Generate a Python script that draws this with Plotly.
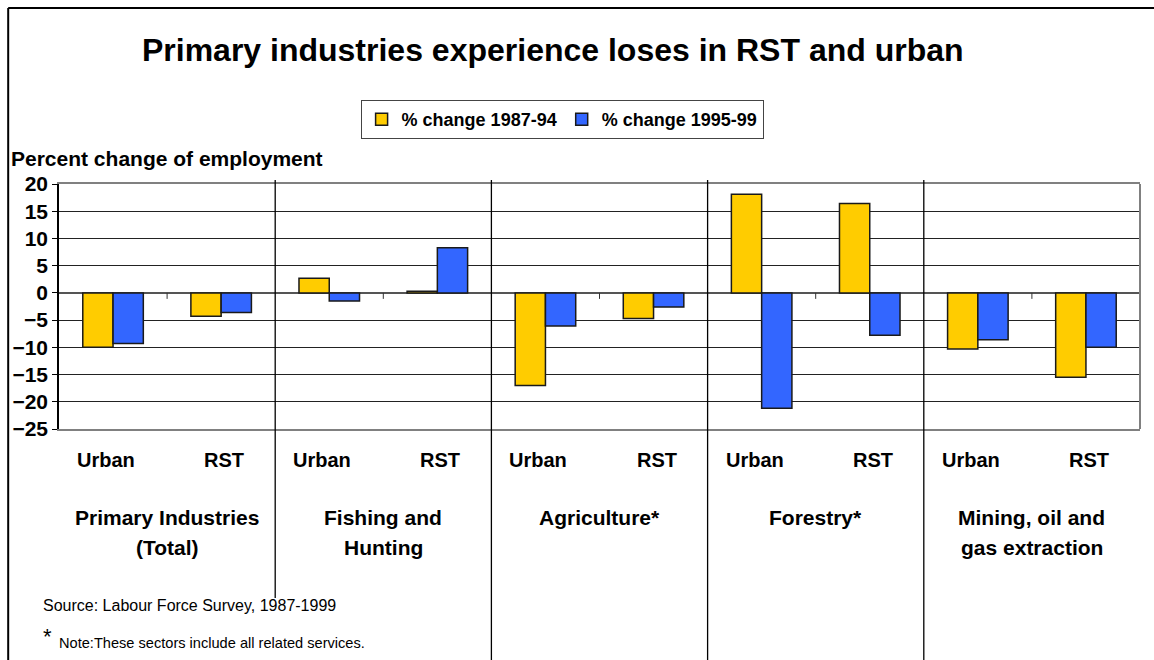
import plotly.graph_objects as go

# ---- data ----
groups = ["Primary Industries<br>(Total)", "Fishing and<br>Hunting", "Agriculture*", "Forestry*",
          "Mining, oil and<br>gas extraction"]
areas = ["Urban", "RST"]
series_names = ["% change 1987-94", "% change 1995-99"]
change_1987_94 = [-10.0, -4.3, 2.7, 0.3, -17.0, -4.7, 18.1, 16.4, -10.3, -15.5]
change_1995_99 = [-9.3, -3.6, -1.5, 8.3, -6.1, -2.6, -21.2, -7.8, -8.6, -10.0]
y_ticks = [20, 15, 10, 5, 0, -5, -10, -15, -20, -25]

colors = ["#FFCC00", "#3366FF"]
FONT = "Liberation Sans, Arial, sans-serif"

n_cat = len(groups) * len(areas)
xpos = list(range(n_cat))
cat_labels = [areas[i % 2] for i in xpos]

fig = go.Figure()
for name, vals, col in zip(series_names, [change_1987_94, change_1995_99], colors):
    fig.add_trace(go.Bar(x=xpos, y=vals, name=name, marker=dict(color=col, line=dict(color="#1a1a1a", width=1.5))))

shapes = []
# group separators
for g in range(1, len(groups)):
    xb = 2 * g - 0.5
    shapes.append(dict(type="line", xref="x", yref="paper", x0=xb, x1=xb, y0=1.016,
                       y1=-0.69 if g == 1 else -0.96, line=dict(color="black", width=1.3)))
# small ticks on zero line between Urban and RST
for g in range(len(groups)):
    xb = 2 * g + 0.5
    shapes.append(dict(type="line", xref="x", yref="y", x0=xb, x1=xb, y0=0, y1=-1.1,
                       line=dict(color="#333", width=1)))
# right border of plot area
shapes.append(dict(type="line", xref="paper", yref="paper", x0=1, x1=1, y0=0, y1=1,
                   line=dict(color="#808080", width=2)))
# outer frame (left and top)
shapes.append(dict(type="line", xref="paper", yref="paper", x0=-0.047, x1=-0.047, y0=1.718, y1=-1.0,
                   line=dict(color="black", width=2)))
shapes.append(dict(type="line", xref="paper", yref="paper", x0=-0.047, x1=1.02, y0=1.718, y1=1.718,
                   line=dict(color="black", width=2)))

BOLD = dict(family=FONT, color="black", weight="bold")
annotations = []
for i, lab in enumerate(cat_labels):
    annotations.append(dict(text=lab, x=i, xref="x", y=-0.1265, yref="paper", showarrow=False,
                            yanchor="middle", xshift=-7 if lab == "Urban" else 3,
                            font=dict(BOLD, size=20)))
for g, lab in enumerate(groups):
    lines = lab.split("<br>")
    ys = [-0.363, -0.4857][:len(lines)]
    for ln, yy in zip(lines, ys):
        annotations.append(dict(text=ln, x=2 * g + 0.5, xref="x", y=yy, yref="paper", showarrow=False,
                                yanchor="middle", font=dict(BOLD, size=21)))
annotations.append(dict(text="Percent change of employment", x=-0.046, xref="paper", y=1.106, yref="paper",
                        xanchor="left", yanchor="middle", showarrow=False, font=dict(BOLD, size=21)))
annotations.append(dict(text="Source: Labour Force Survey, 1987-1999", x=-0.0166, xref="paper", y=-0.7224,
                        yref="paper", xanchor="left", yanchor="middle", showarrow=False,
                        font=dict(family=FONT, size=16, color="black")))
annotations.append(dict(text="*", x=-0.0166, xref="paper", y=-0.845, yref="paper", xanchor="left",
                        yanchor="middle", showarrow=False, font=dict(family=FONT, size=22, color="black")))
annotations.append(dict(text="Note:These sectors include all related services.", x=-0.0019, xref="paper",
                        y=-0.873, yref="paper", xanchor="left", yanchor="middle", showarrow=False,
                        font=dict(family=FONT, size=14.6, color="black")))

fig.update_layout(
    width=1154, height=660,
    margin=dict(l=54, r=14, t=184, b=231),
    paper_bgcolor="white", plot_bgcolor="white",
    barmode="group", bargap=0.44, bargroupgap=0,
    title=dict(text="Primary industries experience loses in RST and urban", x=0.479, xanchor="center",
               y=0.924, yanchor="middle", font=dict(BOLD, size=32)),
    legend=dict(orientation="h", x=0.2790, y=1.343, xanchor="left", yanchor="top",
                bordercolor="#444", borderwidth=1, bgcolor="white", itemwidth=30,
                font=dict(BOLD, size=18)),
    xaxis=dict(range=[-0.5, n_cat - 0.5], showticklabels=False, showgrid=False, zeroline=False,
               showline=True, linecolor="#808080", linewidth=2, mirror=True, ticks=""),
    yaxis=dict(range=[-25, 20], tickvals=y_ticks, showgrid=True, gridcolor="#222", gridwidth=1,
               zeroline=True, zerolinecolor="#555", zerolinewidth=1.5,
               showline=True, linecolor="black", linewidth=1.5, ticks="outside", ticklen=5,
               tickcolor="black", tickfont=dict(BOLD, size=21)),
    shapes=shapes, annotations=annotations, showlegend=True,
)
fig.write_html("out.html", config={"displayModeBar": False},
               post_script="document.body.style.margin='0';document.body.style.padding='0';")
